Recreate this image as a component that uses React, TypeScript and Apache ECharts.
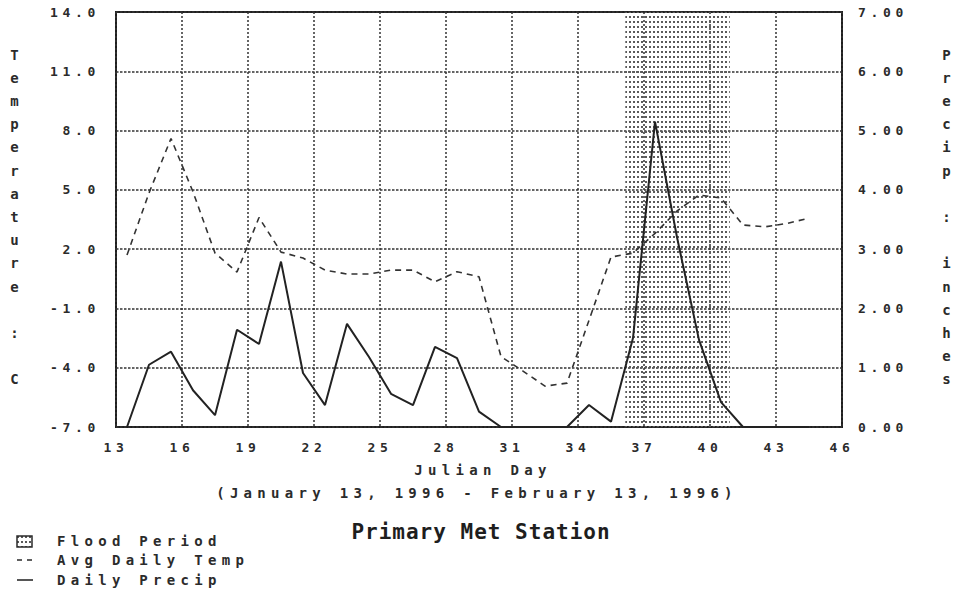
import React, { useEffect, useRef } from "react";
import * as echarts from "echarts";

// Julian day (plotted at the middle of each day)
const days = [
  13.5, 14.5, 15.5, 16.5, 17.5, 18.5, 19.5, 20.5, 21.5, 22.5, 23.5, 24.5, 25.5, 26.5, 27.5, 28.5,
  29.5, 30.5, 31.5, 32.5, 33.5, 34.5, 35.5, 36.5, 37.5, 38.5, 39.5, 40.5, 41.5, 42.5, 43.5, 44.5,
];
// Avg Daily Temp (deg C, left axis)
const avgDailyTemp = [
  1.7, 4.84, 7.6, 4.9, 1.8, 0.84, 3.6, 1.85, 1.55, 0.94, 0.74, 0.74, 0.94, 0.94, 0.35, 0.86,
  0.6, -3.44, -4.17, -4.93, -4.78, -1.6, 1.6, 1.8, 2.8, 3.93, 4.74, 4.59, 3.22, 3.13, 3.3, 3.57,
];
// Daily Precip (inches, right axis)
const dailyPrecip = [
  0, 1.05, 1.27, 0.62, 0.2, 1.64, 1.4, 2.79, 0.91, 0.37, 1.74, 1.18, 0.56, 0.37, 1.35, 1.16,
  0.26, 0, 0, 0, 0, 0.37, 0.09, 1.5, 5.15, 3.2, 1.47, 0.42, 0, 0, 0, 0,
];
// Flood period (Julian day range)
const floodPeriod = [36.15, 40.9];

// Axis ranges / ticks
const dayAxis = { min: 13, max: 46, interval: 3 };
const tempAxis = { min: -7, max: 14, interval: 3 };
const precipAxis = { min: 0, max: 7, interval: 1 };

const titleText = "Primary Met Station";
const xNameText = "Julian Day";
const xSubText = "(January 13, 1996 - February 13, 1996)";
const leftName = "Temperature : C";
const rightName = "Precip : inches";
const legendItems = ["Flood Period", "Avg Daily Temp", "Daily Precip"];

const MONO = "'DejaVu Sans Mono', monospace";
const INK = "#2b2b2b";

const css = `
.chartbox text { letter-spacing: 5.3px; }
.chartbox text[style*="13px"] { letter-spacing: 4.7px; }
.chartbox text[style*="21px"] { letter-spacing: 1px; }
`;

export default function App() {
  const ref = useRef<HTMLDivElement>(null);

  useEffect(() => {
    const el = ref.current!;
    const chart = echarts.init(el, null, { renderer: "svg" });

    const cvs = document.createElement("canvas");
    cvs.width = 4;
    cvs.height = 5;
    const ctx = cvs.getContext("2d")!;
    ctx.fillStyle = "#5a5a5a";
    ctx.fillRect(1, 1, 2, 2);
    const dotUrl = cvs.toDataURL();
    const dotPattern: any = { image: dotUrl, repeat: "repeat", imageWidth: 4, imageHeight: 5 };

    const vertical = (s: string) => s.split("").join("\n");
    const tickLabel = {
      fontFamily: MONO,
      fontSize: 13,
      fontWeight: "bold",
      color: INK,
    };

    const option: any = {
      animation: false,
      backgroundColor: "#ffffff",
      grid: {
        left: 116,
        top: 12,
        right: 114,
        bottom: 163,
        show: true,
        borderColor: "#1e1e1e",
        borderWidth: 2,
        backgroundColor: "transparent",
      },
      xAxis: {
        type: "value",
        min: dayAxis.min,
        max: dayAxis.max,
        interval: dayAxis.interval,
        axisLine: { show: false },
        axisTick: { show: false },
        axisLabel: { ...tickLabel, margin: 14, showMinLabel: true, showMaxLabel: true },
        splitLine: { show: true, lineStyle: { color: "#333", width: 1.5, type: [2, 2] } },
      },
      yAxis: [
        {
          type: "value",
          min: tempAxis.min,
          max: tempAxis.max,
          interval: tempAxis.interval,
          axisLine: { show: false },
          axisTick: { show: false },
          axisLabel: { ...tickLabel, margin: 16, formatter: (v: number) => v.toFixed(1) },
          splitLine: { show: true, lineStyle: { color: "#333", width: 1.5, type: [2.5, 1.5] } },
        },
        {
          type: "value",
          position: "right",
          min: precipAxis.min,
          max: precipAxis.max,
          interval: precipAxis.interval,
          axisLine: { show: false },
          axisTick: { show: false },
          axisLabel: { ...tickLabel, margin: 16, formatter: (v: number) => v.toFixed(2) },
          splitLine: { show: false },
        },
      ],
      series: [
        {
          name: legendItems[0],
          type: "line",
          data: [],
          z: 1,
          markArea: {
            silent: true,
            itemStyle: { color: dotPattern },
            data: [[{ xAxis: floodPeriod[0] }, { xAxis: floodPeriod[1] }]],
          },
        },
        {
          name: legendItems[1],
          type: "line",
          yAxisIndex: 0,
          symbol: "none",
          z: 3,
          lineStyle: { color: "#333", width: 1.6, type: [6, 5] },
          data: days.map((d, i) => [d, avgDailyTemp[i]]),
        },
        {
          name: legendItems[2],
          type: "line",
          yAxisIndex: 1,
          symbol: "none",
          z: 4,
          lineStyle: { color: "#222", width: 2 },
          data: days.map((d, i) => [d, dailyPrecip[i]]),
        },
      ],
      graphic: [
        {
          type: "text",
          x: 17,
          y: 43,
          style: {
            text: vertical(leftName),
            font: `bold 14px ${MONO}`,
            fill: INK,
            align: "center",
            lineHeight: 23.2,
          },
        },
        {
          type: "text",
          x: 949,
          y: 43,
          style: {
            text: vertical(rightName),
            font: `bold 14px ${MONO}`,
            fill: INK,
            align: "center",
            lineHeight: 23.2,
          },
        },
        {
          type: "text",
          x: 483,
          y: 470,
          style: { text: xNameText, font: `bold 14px ${MONO}`, fill: INK, align: "center", verticalAlign: "middle" },
        },
        {
          type: "text",
          x: 477,
          y: 493,
          style: { text: xSubText, font: `bold 14px ${MONO}`, fill: INK, align: "center", verticalAlign: "middle" },
        },
        {
          type: "text",
          x: 481,
          y: 532,
          style: { text: titleText, font: `bold 21px ${MONO}`, fill: "#1e1e1e", align: "center", verticalAlign: "middle" },
        },
        {
          type: "rect",
          shape: { x: 17, y: 536, width: 15, height: 11 },
          style: { fill: dotPattern, stroke: INK, lineWidth: 1.5 },
        },
        {
          type: "text",
          x: 57,
          y: 541,
          style: { text: legendItems[0], font: `bold 14px ${MONO}`, fill: INK, align: "left", verticalAlign: "middle" },
        },
        {
          type: "line",
          shape: { x1: 17, y1: 560, x2: 33, y2: 560 },
          style: { stroke: INK, lineWidth: 1.6, lineDash: [5, 5] },
        },
        {
          type: "text",
          x: 57,
          y: 560,
          style: { text: legendItems[1], font: `bold 14px ${MONO}`, fill: INK, align: "left", verticalAlign: "middle" },
        },
        {
          type: "line",
          shape: { x1: 17, y1: 580, x2: 33, y2: 580 },
          style: { stroke: INK, lineWidth: 1.6 },
        },
        {
          type: "text",
          x: 57,
          y: 580,
          style: { text: legendItems[2], font: `bold 14px ${MONO}`, fill: INK, align: "left", verticalAlign: "middle" },
        },
      ],
    };

    chart.setOption(option);
    return () => chart.dispose();
  }, []);

  return (
    <>
      <style>{css}</style>
      <div
        ref={ref}
        className="chartbox"
        style={{ position: "fixed", left: 0, top: 0, width: 956, height: 590, background: "#fff" }}
      />
    </>
  );
}
